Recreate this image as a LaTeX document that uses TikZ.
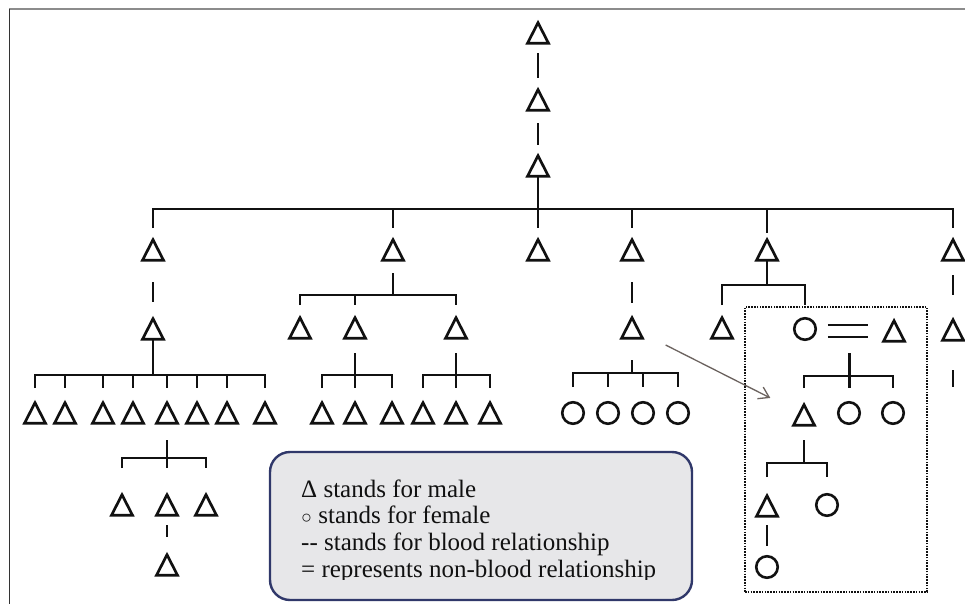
\documentclass[tikz,border=0pt]{standalone}
\usepackage{fontspec}
\setmainfont{Liberation Serif}
\usetikzlibrary{arrows.meta,calc}
\definecolor{ink}{HTML}{111111}
\definecolor{legborder}{HTML}{30386A}
\definecolor{legfill}{HTML}{E7E7E9}
\definecolor{arrowgray}{HTML}{6B625E}
\begin{document}
\begin{tikzpicture}[x=1pt,y=-1pt,
  male/.style={inner sep=0pt, outer sep=0pt, minimum width=21pt, minimum height=20.5pt},
  female/.style={circle, draw=ink, line width=2.6pt, minimum size=21.5pt, inner sep=0pt, outer sep=0pt},
  link/.style={draw=ink, line width=2.7pt},
  arrowline/.style={draw=arrowgray, line width=1.3pt, -{Straight Barb[length=10pt, width=13pt, line width=1.3pt]}},
  dotbox/.style={draw=ink, line width=2.3pt, dash pattern=on 1.6pt off 1.2pt, minimum width=182pt, minimum height=285pt, inner sep=0pt},
  legendbox/.style={draw=legborder, fill=legfill, line width=2.4pt, rounded corners=20pt, minimum width=422pt, minimum height=148pt, inner sep=0pt},
  legtext/.style={anchor=base west, inner sep=0pt, font=\fontsize{25}{27}\selectfont, text=ink}
]
\useasboundingbox (0,0) rectangle (965,604);
\fill[white] (0,0) rectangle (965,604);
% frame lines
\draw[draw=black!45, line width=2.2pt] (9,9) -- (965,9);
\draw[draw=black!80, line width=1.6pt] (9.5,9) -- (9.5,604);

% top chain
\node[male] (a1) at (538,33) {};
\node[male] (a2) at (538,100) {};
\node[male] (a3) at (538,166) {};
\draw[link, shorten <=10pt, shorten >=12pt] (a1.south) -- (a2.north);
\draw[link, shorten <=13pt, shorten >=11pt] (a2.south) -- (a3.north);

% generation b
\node[male] (b1) at (153,250) {};
\node[male] (b2) at (393,250) {};
\node[male] (b3) at (538,250) {};
\node[male] (b4) at (632,250) {};
\node[male] (b5) at (767,250) {};
\node[male] (b6) at (953,250) {};
\coordinate (j0) at (538,209);
\coordinate (t0) at (538,228);
\draw[link] (a3.south) -- (b3 |- t0);
\draw[link] (b1 |- t0) -- (b1 |- j0) -- (b6 |- j0) -- (b6 |- t0);
\foreach \n in {b2,b4} \draw[link] (\n |- j0) -- (\n |- t0);
\draw[link] (b5 |- j0) -- ([yshift=7pt]b5.north);

% branch b1
\node[male] (c1) at (153,329) {};
\draw[link, shorten <=22pt, shorten >=17pt] (b1.south) -- (c1.north);
\coordinate (j1) at (153,375);
\coordinate (t1) at (153,388);
\draw[link] (c1.south) -- (j1);
\node[male] (d1) at (35,413) {};
\node[male] (d2) at (65,413) {};
\node[male] (d3) at (103,413) {};
\node[male] (d4) at (133,413) {};
\node[male] (d5) at (167,413) {};
\node[male] (d6) at (197,413) {};
\node[male] (d7) at (227,413) {};
\node[male] (d8) at (265,413) {};
\draw[link] (d1 |- t1) -- (d1 |- j1) -- (d8 |- j1) -- (d8 |- t1);
\foreach \n in {d2,d3,d4,d5,d6,d7} \draw[link] (\n |- j1) -- (\n |- t1);
\coordinate (j2) at (167,458);
\coordinate (t2) at (167,468);
\node[male] (q1) at (122,505) {};
\node[male] (q2) at (167,505) {};
\node[male] (q3) at (206,505) {};
\draw[link, shorten <=17pt] (d5.south) -- (q2 |- t2);
\draw[link] (q1 |- t2) -- (q1 |- j2) -- (q3 |- j2) -- (q3 |- t2);
\node[male] (f1) at (167,565) {};
\draw[link, shorten <=10pt, shorten >=18pt] (q2.south) -- (f1.north);

% branch b2
\coordinate (j3) at (393,295);
\coordinate (t3) at (393,305);
\draw[link, shorten <=13pt] (b2.south) -- (j3);
\node[male] (c2) at (300,328) {};
\node[male] (c3) at (355,328) {};
\node[male] (c4) at (456,328) {};
\draw[link] (c2 |- t3) -- (c2 |- j3) -- (c4 |- j3) -- (c4 |- t3);
\draw[link] (c3 |- j3) -- (c3 |- t3);
\node[male] (g1) at (322,413) {};
\node[male] (g2) at (355,413) {};
\node[male] (g3) at (392,413) {};
\coordinate (j4) at (355,375);
\coordinate (t4) at (355,388);
\draw[link, shorten <=15pt] (c3.south) -- (g2 |- t4);
\draw[link] (g1 |- t4) -- (g1 |- j4) -- (g3 |- j4) -- (g3 |- t4);
\node[male] (h1) at (423,413) {};
\node[male] (h2) at (456,413) {};
\node[male] (h3) at (490,413) {};
\coordinate (j5) at (456,375);
\coordinate (t5) at (456,388);
\draw[link, shorten <=15pt] (c4.south) -- (h2 |- t5);
\draw[link] (h1 |- t5) -- (h1 |- j5) -- (h3 |- j5) -- (h3 |- t5);

% branch b4
\node[male] (c5) at (632,328) {};
\draw[link, shorten <=22pt, shorten >=15pt] (b4.south) -- (c5.north);
\coordinate (j6) at (632,373);
\coordinate (t6) at (632,387);
\draw[link, shorten <=22pt] (c5.south) -- (j6);
\node[female] (p1) at (573,413) {};
\node[female] (p2) at (608,413) {};
\node[female] (p3) at (643,413) {};
\node[female] (p4) at (678,413) {};
\draw[link] (p1 |- t6) -- (p1 |- j6) -- (p4 |- j6) -- (p4 |- t6);
\foreach \n in {p2,p3} \draw[link] (\n |- j6) -- (\n |- t6);

% branch b5
\coordinate (j7) at (767,285);
\coordinate (t7) at (767,305);
\draw[link] (b5.south) -- (j7);
\node[male] (c6) at (722,328) {};
\node[female] (w1) at (805,329) {};
\draw[link] (c6 |- t7) -- (c6 |- j7) -- (w1 |- j7) -- (w1 |- t7);
\node[male] (hm) at (894,331) {};
\draw[link, shorten <=12pt, shorten >=16pt] ([yshift=4pt]w1.east) -- ([yshift=4pt]w1.east -| hm.west);
\draw[link, shorten <=12pt, shorten >=16pt] ([yshift=-8pt]w1.east) -- ([yshift=-8pt]w1.east -| hm.west);
\coordinate (cm) at ($(w1.east)!0.5!(hm.west)$);
\coordinate (j8) at (849,376);
\coordinate (t8) at (849,388);
\node[male] (k1) at (804,415) {};
\node[female] (k2) at (849,413) {};
\node[female] (k3) at (893,413) {};
\draw[link, shorten <=23pt] (cm) -- (cm |- t8);
\draw[link] (k1 |- t8) -- (k1 |- j8) -- (k3 |- j8) -- (k3 |- t8);
\coordinate (j9) at (804,463);
\coordinate (t9) at (804,477);
\draw[link, shorten <=15pt] (k1.south) -- (j9);
\node[male] (l1) at (767,506) {};
\node[female] (l2) at (827,505) {};
\draw[link] (l1 |- t9) -- (l1 |- j9) -- (l2 |- j9) -- (l2 |- t9);
\node[female] (m1) at (767,567) {};
\draw[link, shorten <=9pt, shorten >=10pt] (l1.south) -- (m1.north);

% branch b6
\node[male] (c7) at (953,330) {};
\draw[link, shorten <=15pt, shorten >=25pt] (b6.south) -- (c7.north);
\coordinate (t10) at (953,387);
\draw[link, shorten <=30pt] (c7.south) -- (t10);

% triangles
\foreach \n in {a1,a2,a3,b1,b2,b3,b4,b5,b6,c1,c2,c3,c4,c5,c6,c7,hm,d1,d2,d3,d4,d5,d6,d7,d8,q1,q2,q3,f1,g1,g2,g3,h1,h2,h3,k1,l1}
  \draw[link, line join=miter] (\n.south west) -- (\n.north) -- (\n.south east) -- cycle;

% dotted group box
\node[dotbox] (grp) at (836,449.5) {};

% arrow
\draw[arrowline, shorten <=26pt, shorten >=26pt] (c5) -- (k1);

% legend
\node[legendbox] (leg) at (481,526) {};
\begin{scope}
\clip (272,454) rectangle (690,579.5);
\node[legtext] (lg1) at (301,497) {Δ stands for male};
\node[legtext] (lg2) at (301,523.5) {{\fontsize{18}{18}\selectfont ○} stands for female};
\node[legtext] (lg3) at (301,550) {-{}- stands for blood relationship};
\node[legtext] (lg4) at (301,577) {= represents non-blood relationship};
\end{scope}
\end{tikzpicture}
\end{document}
